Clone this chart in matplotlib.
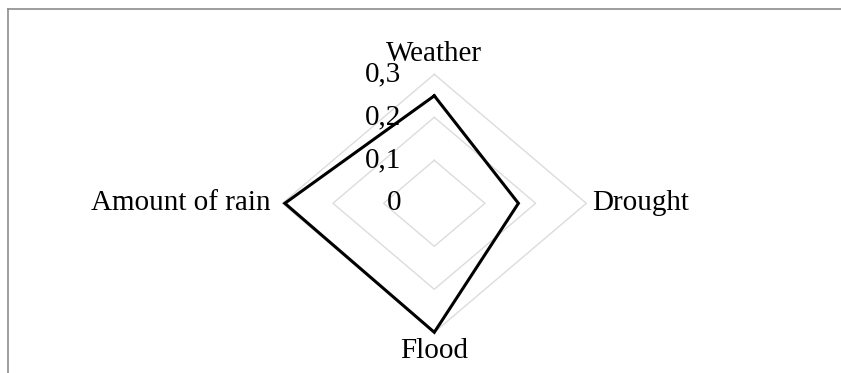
import numpy as np
import matplotlib
matplotlib.use("Agg")
import matplotlib.pyplot as plt
from matplotlib.lines import Line2D

# data
categories = ["Weather", "Drought", "Flood", "Amount of rain"]
values = [0.25, 0.166, 0.3, 0.295]
ring_levels = [0.1, 0.2, 0.3]
tick_levels = [0, 0.1, 0.2, 0.3]
tick_labels = ["0", "0,1", "0,2", "0,3"]

plt.rcParams['font.family'] = ['Liberation Serif', 'DejaVu Serif']

W, H = 841, 373
fig = plt.figure(figsize=(W / 100, H / 100), dpi=100)

# centre of the web and the (stretched) pixel radius of 0.3
cx, cy = 434.3, 373 - 203.3
rx, ry = 152, 129
ax = fig.add_axes([(cx - rx) / W, (cy - ry) / H, 2 * rx / W, 2 * ry / H])
ax.set_xlim(-0.3, 0.3)
ax.set_ylim(-0.3, 0.3)
ax.axis("off")

# clockwise from the top
angles = np.pi / 2 - np.arange(len(categories)) * 2 * np.pi / len(categories)

def to_xy(r):
    r = np.asarray(r, dtype=float)
    return r * np.cos(angles), r * np.sin(angles)

# grid rings
for lev in ring_levels:
    gx, gy = to_xy([lev] * len(categories))
    ax.plot(np.append(gx, gx[0]), np.append(gy, gy[0]), color="#dcdcdc",
            lw=1.0, clip_on=False, zorder=1)

# data polygon
px, py = to_xy(values)
ax.plot(np.append(px, px[0]), np.append(py, py[0]), color="black", lw=2.2,
        solid_joinstyle="miter", clip_on=False, zorder=3)

# category labels
ox, oy = to_xy([0.3] * len(categories))
offsets = [(0, 20, "center", "center"), (6, 0, "left", "center"),
           (0, -19, "center", "center"), (-12, 0, "right", "center")]
for lab, x, y, (dx, dy, ha, va) in zip(categories, ox, oy, offsets):
    ax.annotate(lab, (x, y), xytext=(dx, dy), textcoords="offset pixels",
                ha=ha, va=va, fontsize=21, color="black", annotation_clip=False)

# value tick labels along the vertical axis
for lev, lab in zip(tick_levels, tick_labels):
    ax.annotate(lab, (0, lev), xytext=(-33, 0), textcoords="offset pixels",
                ha="right", va="center", fontsize=21, color="black",
                annotation_clip=False, zorder=2)

# partial chart frame (top and left edges visible)
fig.add_artist(Line2D([8 / W, 1], [1 - 9 / H, 1 - 9 / H], color="#8c8c8c",
                      lw=1.2, transform=fig.transFigure))
fig.add_artist(Line2D([8 / W, 8 / W], [0, 1 - 9 / H], color="#8c8c8c",
                      lw=1.2, transform=fig.transFigure))

fig.savefig("out.png", dpi=100)
